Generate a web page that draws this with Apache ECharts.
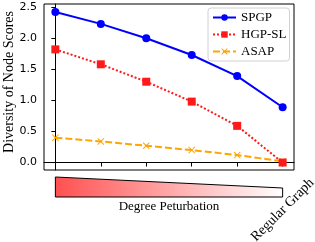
<!DOCTYPE html>
<html><head><meta charset="utf-8">
<script src="https://cdn.jsdelivr.net/npm/echarts@6/dist/echarts.min.js"></script>
<style>html,body{margin:0;padding:0;background:#fff}#c{width:315px;height:242px}</style>
</head><body><div id="c"></div>
<script>
var xPositions = [0, 1, 2, 3, 4, 5];
var seriesNames = ['SPGP', 'HGP-SL', 'ASAP'];
var spgp = [2.42, 2.23, 2.00, 1.73, 1.39, 0.89];
var hgpsl = [1.82, 1.58, 1.30, 0.98, 0.59, 0.00];
var asap = [0.40, 0.34, 0.27, 0.20, 0.12, 0.02];
var yTicks = [0, 0.5, 1.0, 1.5, 2.0, 2.5];
var lastLabel = 'Regular Graph';
var xTitle = 'Degree Peturbation';
var yTitle = 'Diversity of Node Scores';

function pairs(arr){ return arr.map(function(v,i){ return [xPositions[i], v]; }); }
var serif = 'Liberation Serif';
var xMark = 'path://M1,0 L5,4 L9,0 L10,1 L6,5 L10,9 L9,10 L5,6 L1,10 L0,9 L4,5 L0,1 Z';

var chart = echarts.init(document.getElementById('c'), null, {renderer:'canvas'});
chart.setOption({
  animation: false,
  grid: {left: 44, right: 21, top: 4, bottom: 72, outerBoundsMode: 'none', containLabel: false,
    show: true, borderColor: '#000', borderWidth: 1, backgroundColor: 'transparent'},
  legend: {
    orient: 'vertical', left: 208, top: 8,
    data: seriesNames,
    itemWidth: 23, itemHeight: 8, itemGap: 4,
    padding: [3, 3, 3, 4],
    borderColor: '#d0d0d0', borderWidth: 1, borderRadius: 3, backgroundColor: '#fff',
    textStyle: {fontFamily: serif, fontSize: 13, color: '#000'}
  },
  xAxis: {
    type: 'value', min: -0.25, max: 5.25,
    splitLine: {show: false},
    axisLine: {lineStyle: {color: '#000'}},
    axisTick: {show: true, length: 4, customValues: xPositions, lineStyle: {color: '#000'}},
    axisLabel: {show: false},
    name: xTitle, nameLocation: 'middle', nameGap: 30, nameMoveOverlap: false,
    nameTextStyle: {fontFamily: serif, fontSize: 13, color: '#000'}
  },
  yAxis: {
    type: 'value', min: -0.12, max: 2.55,
    splitLine: {show: false},
    axisLine: {show: true, lineStyle: {color: '#000'}},
    axisTick: {show: true, length: 4, customValues: yTicks, lineStyle: {color: '#000'}},
    axisLabel: {customValues: yTicks, fontFamily: 'DejaVu Sans', fontSize: 11, color: '#000', margin: 7,
      formatter: function(v){ return v.toFixed(1); }},
    name: yTitle, nameLocation: 'middle', nameGap: 28, nameRotate: 90, nameMoveOverlap: false,
    nameTextStyle: {fontFamily: serif, fontSize: 14, color: '#000', padding: [0, 0, 0, 10]}
  },
  series: [
    {name: seriesNames[0], type: 'line', data: pairs(spgp), symbol: 'circle', symbolSize: 8,
     itemStyle: {color: '#0000ff'}, lineStyle: {color: '#0000ff', width: 2}, z: 3},
    {name: seriesNames[1], type: 'line', data: pairs(hgpsl), symbol: 'rect', symbolSize: 8,
     itemStyle: {color: '#ff1a1a'}, lineStyle: {color: '#ff1a1a', width: 2, type: [2, 2]}, z: 4},
    {name: seriesNames[2], type: 'line', data: pairs(asap), symbol: xMark, symbolSize: 7,
     itemStyle: {color: '#ffa500'}, lineStyle: {color: '#ffa500', width: 2, type: [7, 3]}, z: 2}
  ]
});

var p0 = chart.convertToPixel({gridIndex: 0}, [xPositions[0], 0]);
var p5 = chart.convertToPixel({gridIndex: 0}, [xPositions[xPositions.length-1], 0]);
var axisY = chart.convertToPixel({gridIndex: 0}, [0, -0.12])[1];
var topL = axisY + 7, topR = axisY + 18, bot = axisY + 27;
chart.setOption({
  graphic: [
    {type: 'polygon', shape: {points: [[p0[0], topL], [p5[0], topR], [p5[0], bot], [p0[0], bot]]},
     style: {fill: new echarts.graphic.LinearGradient(0, 0, 1, 0, [{offset: 0, color: '#ff5050'}, {offset: 1, color: '#ffffff'}]),
       stroke: '#000', lineWidth: 1}},
    {type: 'text', x: p5[0], y: axisY + 40, rotation: Math.PI / 4,
     style: {text: lastLabel, fontFamily: serif, fontSize: 14, fill: '#000', align: 'center', verticalAlign: 'middle'}}
  ]
});
</script></body></html>
